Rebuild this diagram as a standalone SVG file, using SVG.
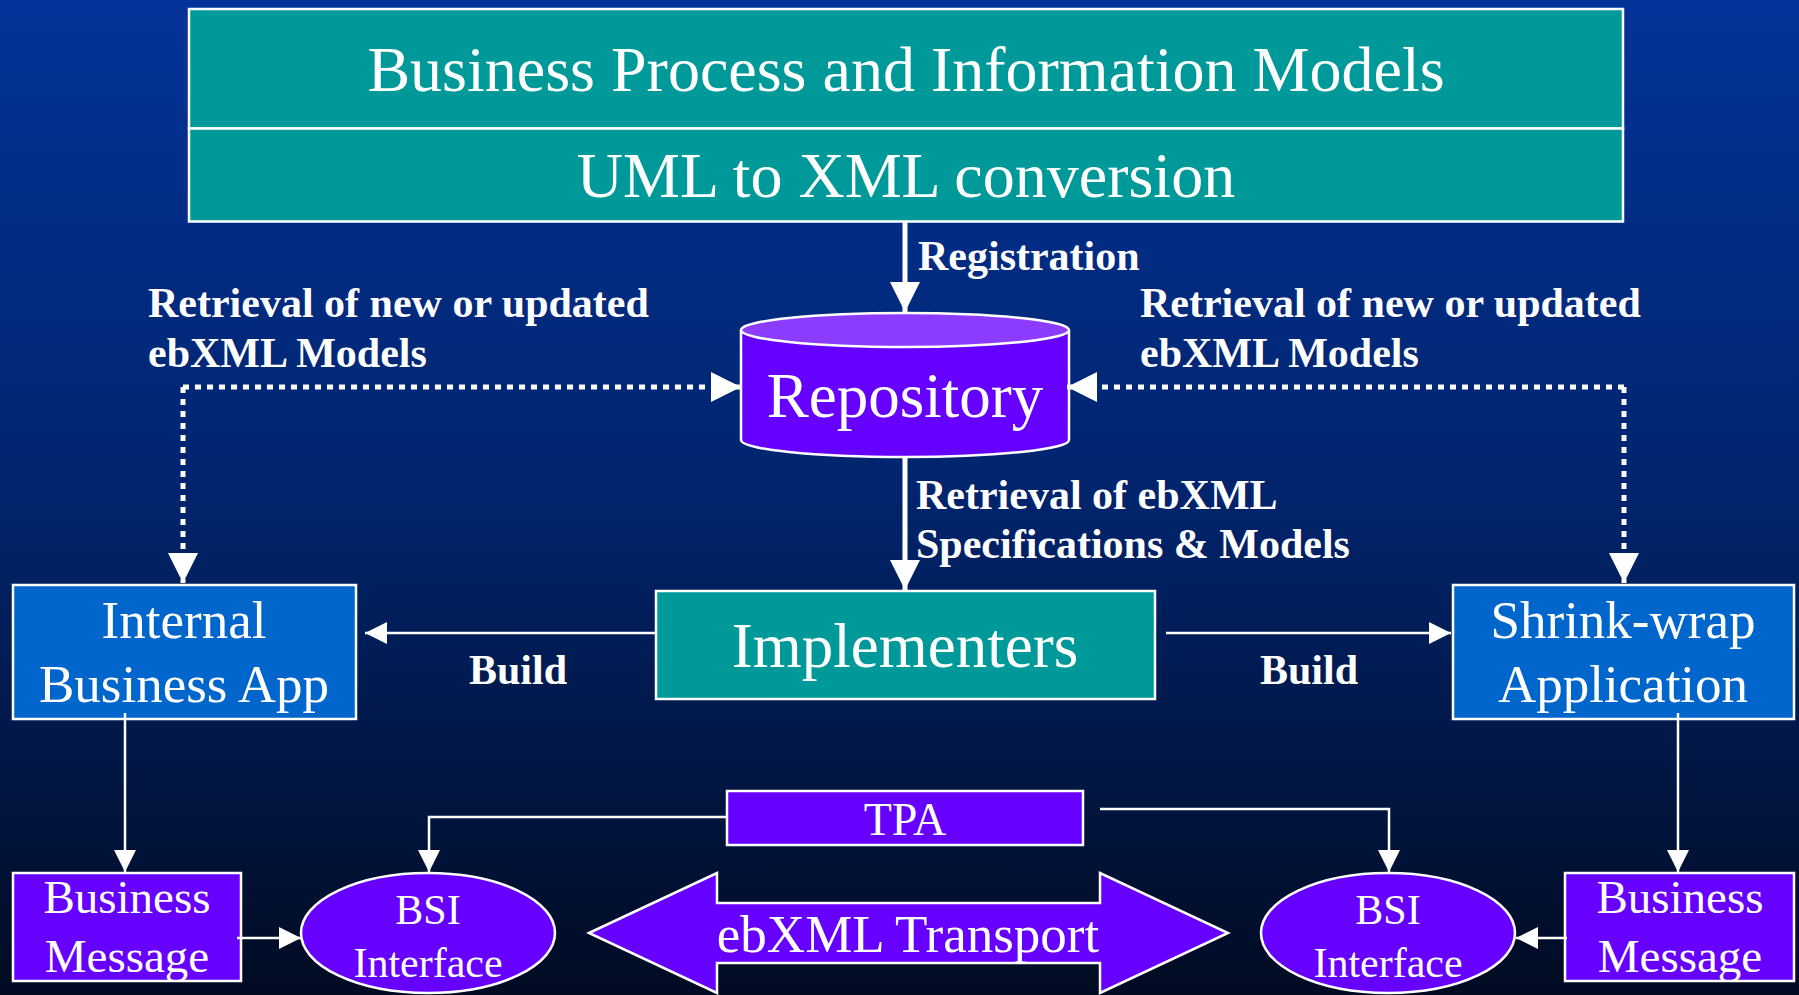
<svg xmlns="http://www.w3.org/2000/svg" width="1799" height="995" viewBox="0 0 1799 995">
<defs>
<linearGradient id="bg" x1="0" y1="0" x2="0" y2="1">
<stop offset="0" stop-color="#033399"/>
<stop offset="0.5" stop-color="#01246c"/>
<stop offset="1" stop-color="#010b22"/>
</linearGradient>
<marker id="big" markerUnits="userSpaceOnUse" markerWidth="30" markerHeight="30" viewBox="0 0 30 30" refX="30" refY="15" orient="auto">
<path d="M0,0 L30,15 L0,30 Z" fill="#fff"/>
</marker>
<marker id="small" markerUnits="userSpaceOnUse" markerWidth="22" markerHeight="22" viewBox="0 0 22 22" refX="22" refY="11" orient="auto">
<path d="M0,0 L22,11 L0,22 Z" fill="#fff"/>
</marker>
</defs>
<style>
.teal{fill:#009999;stroke:#fff;stroke-width:2.5}
.blue{fill:#0066cc;stroke:#fff;stroke-width:2.5}
.purple{fill:#6600ff;stroke:#fff;stroke-width:2.5}
.t{font-family:"Liberation Serif","Times New Roman",serif;fill:#fff;text-anchor:middle}
.lbl{font-family:"Liberation Serif","Times New Roman",serif;fill:#fff;font-weight:bold;font-size:42px}
.thick{stroke:#fff;stroke-width:5;fill:none}
.dot{stroke:#fff;stroke-width:5;fill:none;stroke-dasharray:6 6}
.thin{stroke:#fff;stroke-width:2.5;fill:none}
</style>
<rect x="0" y="0" width="1799" height="995" fill="url(#bg)"/>

<g id="models">
<rect class="teal" x="189" y="9" width="1434" height="119.5"/>
<text class="t" x="906" y="91" font-size="64">Business Process and Information Models</text>
</g>
<g id="uml">
<rect class="teal" x="189" y="128.5" width="1434" height="93"/>
<text class="t" x="906" y="197" font-size="64">UML to XML conversion</text>
</g>

<g id="repository">
<path d="M741,330 L741,440 A164,17 0 0 0 1069,440 L1069,330" fill="#6600ff" stroke="#fff" stroke-width="2.5"/>
<ellipse cx="905" cy="330" rx="164" ry="17" fill="#8c3cff" stroke="#fff" stroke-width="2.5"/>
<text class="t" x="905" y="417" font-size="63">Repository</text>
</g>

<g id="implementers">
<rect class="teal" x="656" y="591" width="499" height="108"/>
<text class="t" x="905" y="667" font-size="63">Implementers</text>
</g>

<g id="internal-app">
<rect class="blue" x="13" y="585" width="343" height="134"/>
<text class="t" x="184" y="638" font-size="53">Internal</text>
<text class="t" x="184" y="702" font-size="53">Business App</text>
</g>

<g id="shrinkwrap-app">
<rect class="blue" x="1453" y="585" width="341" height="134"/>
<text class="t" x="1623" y="638" font-size="53">Shrink-wrap</text>
<text class="t" x="1623" y="702" font-size="53">Application</text>
</g>

<g id="tpa">
<rect class="purple" x="727" y="791" width="356" height="54"/>
<text class="t" x="905" y="835" font-size="46">TPA</text>
</g>

<g id="msg-left">
<rect class="purple" x="13" y="873" width="228" height="108"/>
<text class="t" x="127" y="913" font-size="47">Business</text>
<text class="t" x="127" y="972" font-size="47">Message</text>
</g>

<g id="msg-right">
<rect class="purple" x="1565" y="873" width="229" height="108"/>
<text class="t" x="1680" y="913" font-size="47">Business</text>
<text class="t" x="1680" y="972" font-size="47">Message</text>
</g>

<g id="bsi-left">
<ellipse class="purple" cx="428" cy="933" rx="127" ry="60"/>
<text class="t" x="428" y="924" font-size="42">BSI</text>
<text class="t" x="428" y="977" font-size="42">Interface</text>
</g>

<g id="bsi-right">
<ellipse class="purple" cx="1388" cy="933" rx="127" ry="60"/>
<text class="t" x="1388" y="924" font-size="42">BSI</text>
<text class="t" x="1388" y="977" font-size="42">Interface</text>
</g>

<g id="transport">
<polygon class="purple" points="589,933 717,873 717,903 1100,903 1100,873 1228,933 1100,993 1100,963 717,963 717,993"/>
<text class="t" x="908" y="952" font-size="53">ebXML Transport</text>
</g>

<g id="connectors">
<line class="thick" x1="905" y1="222" x2="905" y2="312" marker-end="url(#big)"/>
<text class="lbl" x="918" y="270">Registration</text>

<path class="dot" d="M183,387 L741,387" marker-end="url(#big)"/>
<path class="dot" d="M183,387 L183,583" marker-end="url(#big)"/>
<text class="lbl" x="148" y="317">Retrieval of new or updated</text>
<text class="lbl" x="148" y="367">ebXML Models</text>

<path class="dot" d="M1624,387 L1067,387" marker-end="url(#big)"/>
<path class="dot" d="M1624,387 L1624,583" marker-end="url(#big)"/>
<text class="lbl" x="1140" y="317">Retrieval of new or updated</text>
<text class="lbl" x="1140" y="367">ebXML Models</text>

<line class="thick" x1="905" y1="457" x2="905" y2="590" marker-end="url(#big)"/>
<text class="lbl" x="916" y="509">Retrieval of ebXML</text>
<text class="lbl" x="916" y="558">Specifications &amp; Models</text>

<line class="thin" x1="656" y1="633" x2="365" y2="633" marker-end="url(#small)"/>
<text class="lbl" x="469" y="684">Build</text>
<line class="thin" x1="1166" y1="633" x2="1451" y2="633" marker-end="url(#small)"/>
<text class="lbl" x="1260" y="684">Build</text>

<line class="thin" x1="125" y1="713" x2="125" y2="872" marker-end="url(#small)"/>
<line class="thin" x1="1678" y1="713" x2="1678" y2="872" marker-end="url(#small)"/>

<line class="thin" x1="237" y1="938" x2="301" y2="938" marker-end="url(#small)"/>
<line class="thin" x1="1567" y1="938" x2="1516" y2="938" marker-end="url(#small)"/>

<polyline class="thin" points="727,817 429,817 429,872" marker-end="url(#small)"/>
<polyline class="thin" points="1100,809 1389,809 1389,872" marker-end="url(#small)"/>
</g>
</svg>
